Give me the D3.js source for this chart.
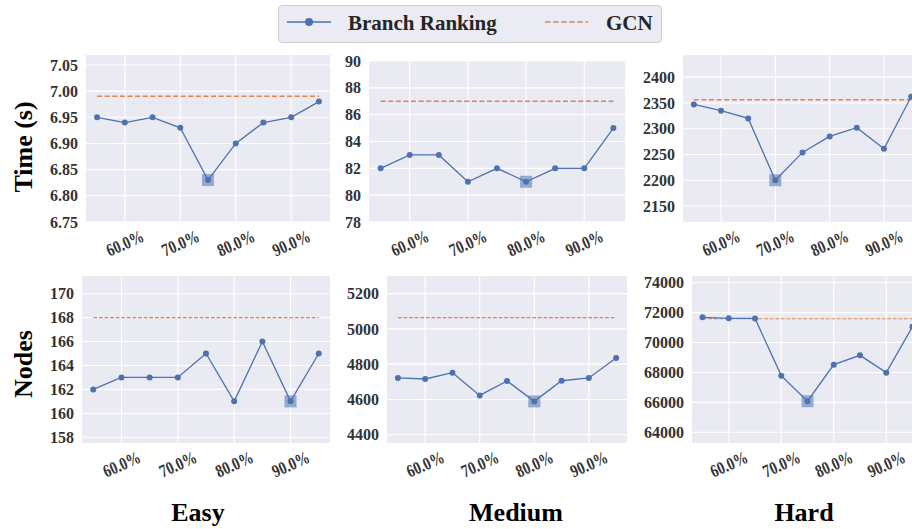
<!DOCTYPE html>
<html>
<head>
<meta charset="utf-8">
<script src="https://cdn.jsdelivr.net/npm/d3@7"></script>
<style>
  html, body { margin: 0; padding: 0; background: #fff; }
  svg text { font-family: "Liberation Serif", "Times New Roman", serif; font-weight: bold; }
</style>
</head>
<body>
<svg id="chart" width="912" height="529"></svg>
<script>
// Data
const pcts = [55, 60, 65, 70, 75, 80, 85, 90, 95];
const xTicks = [60, 70, 80, 90];
const difficulties = ["Easy", "Medium", "Hard"];
const metrics = ["Time (s)", "Nodes"];

const easyTime = [6.95, 6.94, 6.95, 6.93, 6.83, 6.90, 6.94, 6.95, 6.98];
const mediumTime = [82, 83, 83, 81, 82, 81, 82, 82, 85];
const hardTime = [2347, 2335, 2320, 2200, 2254, 2285, 2302, 2261, 2362];
const easyNodes = [162, 163, 163, 163, 165, 161, 166, 161, 165];
const mediumNodes = [4722, 4716, 4752, 4623, 4705, 4589, 4706, 4722, 4835];
const hardNodes = [71689, 71622, 71610, 67788, 66078, 68522, 69145, 67988, 71061];

const gcnTime = [6.99, 87, 2356];
const gcnNodes = [168, 5064, 71590];

// index of the highlighted (best) point
const bestTime = [4, 5, 3];
const bestNodes = [7, 5, 4];

const timeTicks = [
  [6.75, 6.80, 6.85, 6.90, 6.95, 7.00, 7.05],
  [78, 80, 82, 84, 86, 88, 90],
  [2150, 2200, 2250, 2300, 2350, 2400]
];
const nodesTicks = [
  [158, 160, 162, 164, 166, 168, 170],
  [4400, 4600, 4800, 5000, 5200],
  [64000, 66000, 68000, 70000, 72000, 74000]
];

// Layout
const COLORS = { bg: "#eaeaf2", line: "#4c72b0", gcn: "#dd8452", tick: "#333333" };
const X_DOMAIN = [53, 97];
const PANELS = [
  { row: 0, col: 0, x0: 86, x1: 330, y0: 55, y1: 222, yDomain: [6.75, 7.069] },
  { row: 0, col: 1, x0: 369, x1: 625, y0: 61, y1: 222, yDomain: [78, 90] },
  { row: 0, col: 2, x0: 683, x1: 922, y0: 55, y1: 222, yDomain: [2119, 2443] },
  { row: 1, col: 0, x0: 82, x1: 330, y0: 276, y1: 443, yDomain: [157.52, 171.48] },
  { row: 1, col: 1, x0: 387, x1: 627, y0: 276, y1: 443, yDomain: [4353, 5300] },
  { row: 1, col: 2, x0: 692, x1: 923, y0: 276, y1: 443, yDomain: [63286, 74448] }
];

const seriesFor = (row, col) => row === 0
  ? { values: [easyTime, mediumTime, hardTime][col], gcn: gcnTime[col], best: bestTime[col], ticks: timeTicks[col] }
  : { values: [easyNodes, mediumNodes, hardNodes][col], gcn: gcnNodes[col], best: bestNodes[col], ticks: nodesTicks[col] };

const svg = d3.select("#chart");

PANELS.forEach(p => {
  const s = seriesFor(p.row, p.col);
  const x = d3.scaleLinear().domain(X_DOMAIN).range([p.x0, p.x1]);
  const y = d3.scaleLinear().domain(p.yDomain).range([p.y1, p.y0]);
  const g = svg.append("g");

  g.append("rect")
    .attr("x", p.x0).attr("y", p.y0)
    .attr("width", p.x1 - p.x0).attr("height", p.y1 - p.y0)
    .attr("fill", COLORS.bg);

  // grid
  g.selectAll(".gy").data(s.ticks).enter().append("line")
    .attr("x1", p.x0).attr("x2", p.x1)
    .attr("y1", d => y(d)).attr("y2", d => y(d))
    .attr("stroke", "#fff").attr("stroke-width", 1.1);
  g.selectAll(".gx").data(xTicks).enter().append("line")
    .attr("x1", d => x(d)).attr("x2", d => x(d))
    .attr("y1", p.y0).attr("y2", p.y1)
    .attr("stroke", "#fff").attr("stroke-width", 1.1);

  // y tick labels
  const fmt = (p.row === 0 && p.col === 0) ? (d => d.toFixed(2)) : (d => String(d));
  g.selectAll(".ty").data(s.ticks).enter().append("text")
    .attr("x", p.x0 - 8).attr("y", d => y(d))
    .attr("dy", "0.35em")
    .attr("text-anchor", "end")
    .attr("font-size", 16)
    .attr("fill", COLORS.tick)
    .text(fmt);

  // x tick labels
  g.selectAll(".tx").data(xTicks).enter().append("text")
    .attr("transform", d => `translate(${x(d)},${p.y1 + 21}) rotate(-24) scale(0.95,1.2)`)
    .attr("text-anchor", "middle")
    .attr("dy", "0.35em")
    .attr("font-size", 15)
    .attr("fill", COLORS.tick)
    .text(d => d.toFixed(1) + "%");

  // GCN baseline
  g.append("line")
    .attr("x1", x(pcts[0])).attr("x2", x(pcts[pcts.length - 1]))
    .attr("y1", y(s.gcn)).attr("y2", y(s.gcn))
    .attr("stroke", COLORS.gcn)
    .attr("stroke-width", p.row === 0 ? 1.5 : 1.1)
    .attr("stroke-dasharray", p.row === 0 ? "5,2.6" : "3.8,1.8");

  // best point highlight
  g.append("rect")
    .attr("x", x(pcts[s.best]) - 6).attr("y", y(s.values[s.best]) - 6)
    .attr("width", 12).attr("height", 12)
    .attr("fill", COLORS.line).attr("opacity", 0.55);

  // branch ranking line
  const line = d3.line().x((d, i) => x(pcts[i])).y(d => y(d));
  g.append("path")
    .attr("d", line(s.values))
    .attr("fill", "none")
    .attr("stroke", COLORS.line)
    .attr("stroke-width", 1.3);
  g.selectAll(".pt").data(s.values).enter().append("circle")
    .attr("cx", (d, i) => x(pcts[i])).attr("cy", d => y(d))
    .attr("r", 3)
    .attr("fill", COLORS.line);
});

// row labels
const rowLabelPos = [147, 364];
metrics.forEach((m, i) => {
  svg.append("text")
    .attr("transform", `translate(23,${rowLabelPos[i]}) rotate(-90)`)
    .attr("text-anchor", "middle")
    .attr("dy", "0.35em")
    .attr("font-size", 26)
    .attr("fill", "#000")
    .text(m);
});

// column labels
const colLabelX = [198, 516, 804];
difficulties.forEach((d, i) => {
  svg.append("text")
    .attr("x", colLabelX[i]).attr("y", 521)
    .attr("text-anchor", "middle")
    .attr("font-size", 26)
    .attr("fill", "#000")
    .text(d);
});

// legend
const legend = svg.append("g");
legend.append("rect")
  .attr("x", 278.5).attr("y", 5.5).attr("width", 383).attr("height", 37).attr("rx", 4)
  .attr("fill", "#ebebf3").attr("stroke", "#cccccc");
legend.append("line")
  .attr("x1", 287).attr("x2", 331).attr("y1", 22).attr("y2", 22)
  .attr("stroke", COLORS.line).attr("stroke-width", 1.5);
legend.append("circle").attr("cx", 309).attr("cy", 22).attr("r", 4).attr("fill", COLORS.line);
legend.append("text").attr("x", 348).attr("y", 30).attr("font-size", 21).attr("fill", "#262626").text("Branch Ranking");
legend.append("line")
  .attr("x1", 545).attr("x2", 588).attr("y1", 22).attr("y2", 22)
  .attr("stroke", COLORS.gcn).attr("stroke-width", 1.6).attr("stroke-dasharray", "5.5,2.6");
legend.append("text").attr("x", 606).attr("y", 30).attr("font-size", 21).attr("fill", "#262626").text("GCN");
</script>
</body>
</html>
